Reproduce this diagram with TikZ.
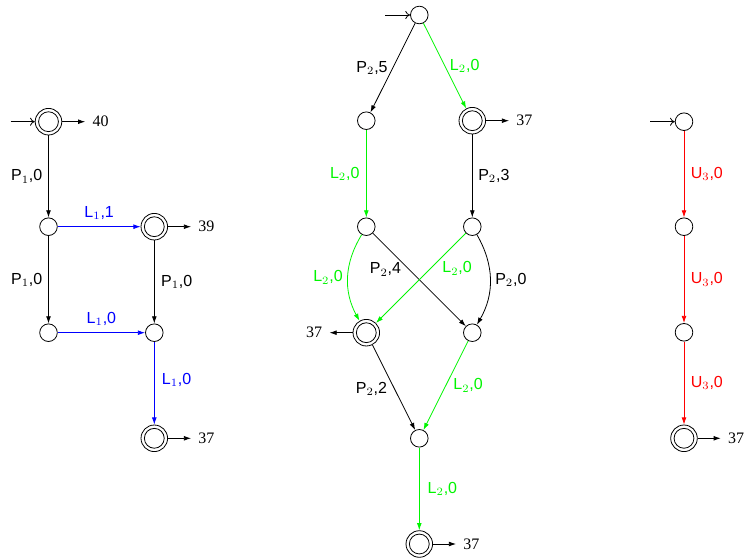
\documentclass[tikz,border=0pt]{standalone}
\usepackage{fontspec}
\setmainfont{Liberation Serif}
\setsansfont{Liberation Sans}
\usetikzlibrary{arrows.meta}
\newcommand\trl[3]{#1$_{#2}$,#3}
\definecolor{lblue}{RGB}{0,0,255}
\definecolor{lgreen}{RGB}{0,245,0}
\definecolor{lred}{RGB}{255,0,0}
\begin{document}
\begin{tikzpicture}[x=0.625pt,y=0.625pt,
  st/.style={circle,draw,line width=0.5pt,minimum size=11pt,inner sep=0pt},
  acc/.style={circle,draw,line width=0.5pt,minimum size=16.6pt,inner sep=0pt,
    path picture={\draw[line width=0.5pt] (path picture bounding box.center) circle (6.2pt);}},
  tr/.style={-{Latex[length=4.5pt,width=3pt]},line width=0.5pt},
  ini/.style={-{To[length=3pt,width=5pt]},line width=0.5pt},
  lab/.style={font=\sffamily,inner sep=3pt},
  outl/.style={inner xsep=4.4pt,inner ysep=1pt},
  bl/.style={draw=lblue,text=lblue},
  gr/.style={draw=lgreen,text=lgreen},
  rd/.style={draw=lred,text=lred}]
\useasboundingbox (0,0) rectangle (746,558);

% left automaton
\node[acc] (A1) at (48.5,436.3) {};
\node[st]  (B1) at (48.5,331.3) {};
\node[acc] (C1) at (154.3,331.3) {};
\node[st]  (D1) at (48.5,225.3) {};
\node[st]  (E1) at (154.3,225.3) {};
\node[acc] (F1) at (154.3,119.7) {};
\coordinate (s1) at (10.5,436.3);
\node[outl,anchor=west] (o1) at (85.3,436.3) {40};
\node[outl,anchor=west] (o2) at (191.1,331.3) {39};
\node[outl,anchor=west] (o3) at (191.1,119.7) {37};
\draw[ini] (s1) -- (A1);
\draw[tr] (A1) -- (o1);
\draw[tr] (C1) -- (o2);
\draw[tr] (F1) -- (o3);
\draw[tr] (A1) -- node[lab,left=0.6pt] {\trl{P}{1}{0}} (B1);
\draw[tr,bl] (B1) -- node[lab,above=1pt] {\trl{L}{1}{1}} (C1);
\draw[tr] (B1) -- node[lab,left=0.6pt] {\trl{P}{1}{0}} (D1);
\draw[tr] (C1) -- node[lab,right=1pt] {\trl{P}{1}{0}} (E1);
\draw[tr,bl] (D1) -- node[lab,above=1pt] {\trl{L}{1}{0}} (E1);
\draw[tr,bl] (E1) -- node[lab,right=1.5pt,pos=0.46] {\trl{L}{1}{0}} (F1);

% middle automaton
\node[st]  (m0) at (419.3,543) {};
\node[st]  (m1) at (366.3,437.3) {};
\node[acc] (m2) at (472.3,437.3) {};
\node[st]  (m3) at (366.3,331.3) {};
\node[st]  (m4) at (472.3,331.3) {};
\node[acc] (m5) at (366.3,225.3) {};
\node[st]  (m6) at (472.3,225.3) {};
\node[st]  (m7) at (419.3,119.7) {};
\node[acc] (m8) at (419.3,14) {};
\coordinate (s2) at (385,543);
\node[outl,anchor=west] (o4) at (509.1,437.3) {37};
\node[outl,anchor=east] (o5) at (329.5,225.3) {37};
\node[outl,anchor=west] (o6) at (456.1,14) {37};
\draw[ini] (s2) -- (m0);
\draw[tr] (m2) -- (o4);
\draw[tr] (m5) -- (o5);
\draw[tr] (m8) -- (o6);
\draw[tr] (m0) -- node[lab,left] {\trl{P}{2}{5}} (m1);
\draw[tr,gr] (m0) -- node[lab,right] {\trl{L}{2}{0}} (m2);
\draw[tr,gr] (m1) -- node[lab,left=1pt] {\trl{L}{2}{0}} (m3);
\draw[tr] (m2) -- node[lab,right=0.5pt] {\trl{P}{2}{3}} (m4);
\draw[tr,gr] (m3) to[bend right=30] node[lab,left] {\trl{L}{2}{0}} (m5);
\draw[tr] (m4) to[bend left=30] node[lab,right] {\trl{P}{2}{0}} (m6);
\draw[tr] (m3) -- node[lab,left=1.75pt,pos=0.39] {\trl{P}{2}{4}} (m6);
\draw[tr,gr] (m4) -- node[lab,right=4pt,pos=0.39] {\trl{L}{2}{0}} (m5);
\draw[tr] (m5) -- node[lab,left=1.5pt,pos=0.52] {\trl{P}{2}{2}} (m7);
\draw[tr,gr] (m6) -- node[lab,right=1.5pt] {\trl{L}{2}{0}} (m7);
\draw[tr,gr] (m7) -- node[lab,right=2pt] {\trl{L}{2}{0}} (m8);

% right automaton
\node[st]  (r0) at (684,436.3) {};
\node[st]  (r1) at (684,331.3) {};
\node[st]  (r2) at (684,225.7) {};
\node[acc] (r3) at (684,119.7) {};
\coordinate (s3) at (650,436.3);
\node[outl,anchor=west] (o7) at (720.8,119.7) {37};
\draw[ini] (s3) -- (r0);
\draw[tr] (r3) -- (o7);
\draw[tr,rd] (r0) -- node[lab,right=1pt] {\trl{U}{3}{0}} (r1);
\draw[tr,rd] (r1) -- node[lab,right=1pt] {\trl{U}{3}{0}} (r2);
\draw[tr,rd] (r2) -- node[lab,right=1pt] {\trl{U}{3}{0}} (r3);
\end{tikzpicture}
\end{document}
